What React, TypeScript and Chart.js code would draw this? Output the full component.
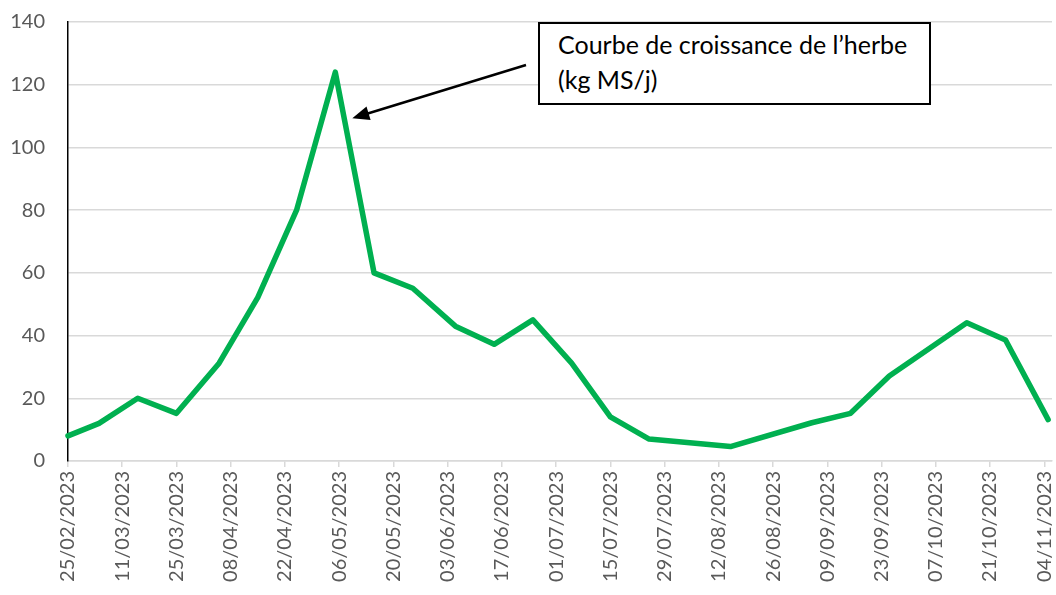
import React, { useEffect, useRef } from "react";
import { Chart, registerables } from "chart.js";

Chart.register(...registerables);

// ---- Data ----
const sampleDates: string[] = [
  "25/02/2023", "05/03/2023", "15/03/2023", "25/03/2023", "05/04/2023",
  "15/04/2023", "25/04/2023", "05/05/2023", "15/05/2023", "25/05/2023",
  "05/06/2023", "15/06/2023", "25/06/2023", "05/07/2023", "15/07/2023",
  "25/07/2023", "15/08/2023", "05/09/2023", "15/09/2023", "25/09/2023",
  "15/10/2023", "25/10/2023", "05/11/2023",
];
const growthValues: number[] = [
  8, 12, 20, 15.2, 31.2,
  52.2, 80, 124, 60, 55.1,
  43, 37.2, 45, 31.2, 14.1,
  7.0, 4.6, 12.2, 15.2, 27.1,
  44.1, 38.6, 13.2,
];
const tickLabels: string[] = [
  "25/02/2023", "11/03/2023", "25/03/2023", "08/04/2023", "22/04/2023",
  "06/05/2023", "20/05/2023", "03/06/2023", "17/06/2023", "01/07/2023",
  "15/07/2023", "29/07/2023", "12/08/2023", "26/08/2023", "09/09/2023",
  "23/09/2023", "07/10/2023", "21/10/2023", "04/11/2023",
];
const axisEndDate = "06/11/2023";
const annotationLines: string[] = ["Courbe de croissance de l\u2019herbe", "(kg MS/j)"];

// ---- helpers ----
const toUTC = (s: string) => {
  const [d, m, y] = s.split("/").map(Number);
  return Date.UTC(y, m - 1, d);
};
const origin = toUTC(sampleDates[0]);
const dayOf = (s: string) => Math.round((toUTC(s) - origin) / 86400000);

const FONT = "Lato, 'Noto Sans', sans-serif";
const BOX = { left: 538, top: 22, width: 393, height: 83 };

const arrowPlugin = {
  id: "arrowAnnot",
  afterDraw(chart: any) {
    const ds = chart.getDatasetMeta(0);
    if (!ds || !ds.data.length) return;
    let peakIdx = 0;
    growthValues.forEach((v, i) => { if (v > growthValues[peakIdx]) peakIdx = i; });
    const pt = ds.data[peakIdx];
    const tipX = pt.x + 17;
    const tipY = pt.y + 46;
    const startX = BOX.left - 12;
    const startY = BOX.top + 43;
    const ctx = chart.ctx;
    const ang = Math.atan2(tipY - startY, tipX - startX);
    const headLen = 17;
    const headHalf = 7;
    ctx.save();
    ctx.strokeStyle = "#000";
    ctx.fillStyle = "#000";
    ctx.lineWidth = 2.5;
    ctx.beginPath();
    ctx.moveTo(startX, startY);
    ctx.lineTo(tipX - Math.cos(ang) * headLen * 0.8, tipY - Math.sin(ang) * headLen * 0.8);
    ctx.stroke();
    const bx = tipX - Math.cos(ang) * headLen;
    const by = tipY - Math.sin(ang) * headLen;
    ctx.beginPath();
    ctx.moveTo(tipX, tipY);
    ctx.lineTo(bx + Math.sin(ang) * headHalf, by - Math.cos(ang) * headHalf);
    ctx.lineTo(bx - Math.sin(ang) * headHalf, by + Math.cos(ang) * headHalf);
    ctx.closePath();
    ctx.fill();
    ctx.restore();
  },
};

export default function App() {
  const canvasRef = useRef<HTMLCanvasElement | null>(null);

  useEffect(() => {
    if (!canvasRef.current) return;
    const points = sampleDates.map((d, i) => ({ x: dayOf(d), y: growthValues[i] }));
    const tickDays = tickLabels.map(dayOf);

    const chart = new Chart(canvasRef.current, {
      type: "line",
      data: {
        datasets: [
          {
            data: points,
            borderColor: "#00B050",
            backgroundColor: "#00B050",
            borderWidth: 5.5,
            pointRadius: 0,
            tension: 0,
            borderJoinStyle: "round",
            borderCapStyle: "round",
            clip: false,
          } as any,
        ],
      },
      options: {
        animation: false,
        responsive: false,
        devicePixelRatio: 1,
        layout: { padding: { left: 0, top: 22, right: 4, bottom: 0 } },
        plugins: { legend: { display: false }, tooltip: { enabled: false } },
        scales: {
          x: {
            type: "linear",
            min: 0,
            max: dayOf(axisEndDate),
            bounds: "data",
            afterFit: (s: any) => { s.height = 134; s.paddingLeft = 0; s.paddingRight = 0; },
            afterBuildTicks: (s: any) => { s.ticks = tickDays.map((v) => ({ value: v })); },
            ticks: {
              autoSkip: false,
              minRotation: 90,
              maxRotation: 90,
              padding: 4,
              color: "#595959",
              font: { family: FONT, size: 20 },
              callback: (v: any) => {
                const i = tickDays.indexOf(Number(v));
                return i >= 0 ? tickLabels[i] : "";
              },
            },
            grid: {
              drawOnChartArea: false,
              drawTicks: true,
              tickLength: 6,
              color: "#D9D9D9",
              lineWidth: 1.5,
            },
            border: { display: true, color: "#D9D9D9", width: 1.5 },
          },
          y: {
            min: 0,
            max: 140,
            afterFit: (s: any) => { s.width = 68; s.paddingTop = 0; s.paddingBottom = 0; },
            ticks: {
              stepSize: 20,
              padding: 23,
              color: "#595959",
              font: { family: FONT, size: 20 },
            },
            grid: { color: "#D9D9D9", lineWidth: 1.5, drawTicks: false },
            border: { display: true, color: "#000000", width: 1.5 },
          },
        },
      },
      plugins: [arrowPlugin],
    });
    return () => chart.destroy();
  }, []);

  return (
    <div style={{ position: "fixed", left: 0, top: 0, width: 1056, height: 595, background: "#fff" }}>
      <canvas ref={canvasRef} width={1056} height={595} style={{ display: "block" }} />
      <div
        style={{
          position: "absolute",
          left: BOX.left,
          top: BOX.top,
          width: BOX.width,
          height: BOX.height,
          boxSizing: "border-box",
          border: "2px solid #000",
          background: "#fff",
          paddingLeft: 18,
          paddingTop: 3,
          fontFamily: FONT,
          fontSize: 25,
          lineHeight: "35px",
          color: "#000",
          whiteSpace: "nowrap",
        }}
      >
        {annotationLines.map((l, i) => (
          <div key={i}>{l}</div>
        ))}
      </div>
    </div>
  );
}
